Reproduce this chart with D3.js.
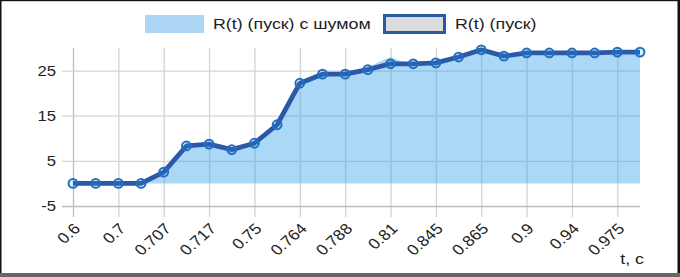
<!DOCTYPE html>
<html><head><meta charset="utf-8">
<script src="https://cdn.jsdelivr.net/npm/d3@7"></script>
<style>
html,body{margin:0;padding:0;background:#fff;}
svg{display:block;font-family:"Liberation Sans",Arial,sans-serif;}
</style></head>
<body>
<svg id="c" width="680" height="277"></svg>
<script>
// Category tick labels (every other label is hidden in the original, left blank here)
const tLabels = ["0.6","","0.7","","0.707","","0.717","","0.75","","0.764","","0.788","","0.81","","0.845","","0.865","","0.9","","0.94","","0.975",""];
// R(t) (пуск)
const rClean = [0,0,0,0,2.5,8.3,8.7,7.5,8.9,13.0,22.2,24.2,24.2,25.2,26.5,26.5,26.7,28.0,29.6,28.2,28.9,28.9,28.9,28.9,29.1,29.1];
// R(t) (пуск) с шумом
const rNoise = [0,0.1,0,0.1,2.3,8.1,8.8,7.4,8.8,13.2,22.0,24.4,24.8,25.8,28.0,26.0,26.3,27.8,29.4,27.6,28.7,28.6,28.8,28.5,29.0,29.1];
const yTicks = [-5,5,15,25];
const seriesNames = ["R(t) (пуск) с шумом","R(t) (пуск)"];
const xTitle = "t, c";

const svg = d3.select("#c");
const W = 680, H = 277;
const L = 73, R = 640, T = 48, B = 206;
const SX = 1.15; // horizontal stretch of the original screenshot's text

const idx = d3.range(tLabels.length);
const x = d3.scalePoint().domain(idx).range([L, R]).padding(0);
const y = d3.scaleLinear().domain([-5, 30]).range([B, T]);

const gridColor = "#d4d4d4";
const shownIdx = idx.filter(i => tLabels[i] !== "");

svg.append("rect").attr("x",0).attr("y",0).attr("width",W).attr("height",H).attr("fill","#fff");

// grid: vertical
const gx = svg.append("g").attr("transform",`translate(0,${T})`);
gx.call(d3.axisBottom(x).tickValues(shownIdx).tickSize(217 - T).tickFormat(""))
  .call(g => g.select(".domain").remove())
  .call(g => g.selectAll(".tick line").attr("stroke", (d,i) => i===0 ? "#bdbdbd" : gridColor).attr("stroke-width",1.3));

// grid: horizontal
const gy = svg.append("g").attr("transform",`translate(${R},0)`);
gy.call(d3.axisLeft(y).tickValues(yTicks).tickSize(R - 62).tickFormat(""))
  .call(g => g.select(".domain").remove())
  .call(g => g.selectAll(".tick line").attr("stroke", d => d===-5 ? "#bdbdbd" : gridColor).attr("stroke-width",1.3));

// area (noisy series)
const area = d3.area().x((d,i)=>x(i)).y0(y(0)).y1(d=>y(d));
svg.append("path").datum(rNoise).attr("d",area).attr("fill","rgba(54,162,235,0.42)");

// line (clean series)
const line = d3.line().x((d,i)=>x(i)).y(d=>y(d));
svg.append("path").datum(rClean).attr("d",line).attr("fill","none")
  .attr("stroke","#2c58a8").attr("stroke-width",4.8).attr("stroke-linejoin","round");

// points
svg.append("g").selectAll("circle").data(rClean).join("circle")
  .attr("cx",(d,i)=>x(i)).attr("cy",d=>y(d)).attr("r",4.4)
  .attr("fill","rgba(54,162,235,0.15)").attr("stroke","#1f6fc2").attr("stroke-width",2);

// y tick labels
svg.append("g").selectAll("text").data(yTicks).join("text")
  .attr("transform",d=>`translate(56,${y(d)}) scale(${SX},1)`)
  .attr("dy","0.35em").attr("text-anchor","end")
  .attr("font-size",14.5).attr("fill","#222").text(d=>d);

// x tick labels
svg.append("g").selectAll("text").data(shownIdx).join("text")
  .attr("transform",i=>`translate(${x(i)+4},${226}) scale(${SX},1) rotate(-45)`)
  .attr("dy","0.35em").attr("text-anchor","end")
  .attr("font-size",15).attr("fill","#222").text(i=>tLabels[i]);

// x title
svg.append("text").attr("transform",`translate(644,264) scale(${SX},1)`).attr("text-anchor","end")
  .attr("font-size",15.5).attr("fill","#222").text(xTitle);

// legend
svg.append("rect").attr("x",145).attr("y",15).attr("width",59).attr("height",18).attr("fill","#acd6f4");
svg.append("text").attr("transform",`translate(213,24) scale(${SX},1)`).attr("dy","0.35em").attr("font-size",15.5).attr("fill","#222").text(seriesNames[0]);
svg.append("rect").attr("x",384.5).attr("y",15.5).attr("width",60).attr("height",17).attr("fill","#dcdcdc")
  .attr("stroke","#2c58a8").attr("stroke-width",3);
svg.append("text").attr("transform",`translate(455,24) scale(${SX},1)`).attr("dy","0.35em").attr("font-size",15.5).attr("fill","#222").text(seriesNames[1]);

// outer frame
svg.append("rect").attr("x",0).attr("y",0).attr("width",1.5).attr("height",H).attr("fill","#111");
svg.append("rect").attr("x",0).attr("y",0).attr("width",W).attr("height",1.2).attr("fill","#111");
svg.append("rect").attr("x",677.5).attr("y",0).attr("width",2.5).attr("height",H).attr("fill","#111");
svg.append("rect").attr("x",0).attr("y",273).attr("width",W).attr("height",4).attr("fill","#666");
</script>
</body></html>
